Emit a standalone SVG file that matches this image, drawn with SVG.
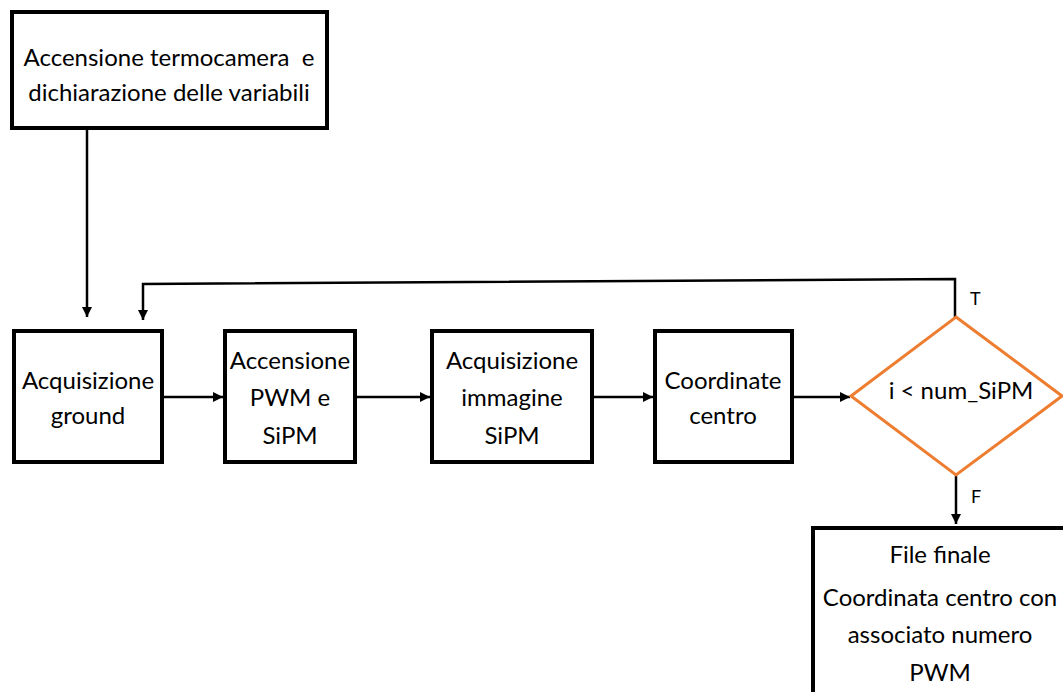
<svg xmlns="http://www.w3.org/2000/svg" width="1063" height="692" viewBox="0 0 1063 692">
<defs>
<marker id="ah" viewBox="0 0 10 10" refX="10" refY="5" markerWidth="4" markerHeight="4" orient="auto" markerUnits="strokeWidth">
<path d="M0,0 L10,5 L0,10 z" fill="#000"/>
</marker>
<style>
.box{fill:#fff;stroke:#000;stroke-width:4}
.dia{fill:#fff;stroke:#ED7D31;stroke-width:3}
.t{font-family:Lato,"Open Sans",sans-serif;font-size:24px;fill:#000;text-anchor:middle}
.s{font-family:Lato,"Open Sans",sans-serif;font-size:18px;fill:#000}
.c{fill:none;stroke:#000;stroke-width:2.5}
</style>
</defs>
<rect width="1063" height="692" fill="#fff"/>
<g id="connectors">
<path class="c" d="M87,128 L87,317" marker-end="url(#ah)"/>
<path class="c" d="M955,317 L955,279 L143,284 L143,320" marker-end="url(#ah)"/>
<path class="c" d="M162,397 L223,397" marker-end="url(#ah)"/>
<path class="c" d="M355,397 L430,397" marker-end="url(#ah)"/>
<path class="c" d="M592,397 L653,397" marker-end="url(#ah)"/>
<path class="c" d="M792,397 L850,397" marker-end="url(#ah)"/>
<path class="c" d="M956,475 L956,524" marker-end="url(#ah)"/>
</g>
<g id="start">
<rect class="box" x="12" y="12" width="315" height="116"/>
<text class="t" x="169" y="66">Accensione termocamera&#160; e</text>
<text class="t" x="169" y="101">dichiarazione delle variabili</text>
</g>
<g id="ground">
<rect class="box" x="14" y="331" width="148" height="131"/>
<text class="t" x="88" y="389">Acquisizione</text>
<text class="t" x="88" y="424">ground</text>
</g>
<g id="pwm">
<rect class="box" x="225" y="331" width="130" height="131"/>
<text class="t" x="290" y="369">Accensione</text>
<text class="t" x="290" y="406">PWM e</text>
<text class="t" x="290" y="444">SiPM</text>
</g>
<g id="img">
<rect class="box" x="432" y="331" width="160" height="131"/>
<text class="t" x="512" y="369">Acquisizione</text>
<text class="t" x="512" y="406">immagine</text>
<text class="t" x="512" y="444">SiPM</text>
</g>
<g id="coord">
<rect class="box" x="655" y="331" width="137" height="131"/>
<text class="t" x="723" y="389">Coordinate</text>
<text class="t" x="723" y="424">centro</text>
</g>
<g id="decision">
<polygon class="dia" points="956,317 1062,396 956,475 851,396"/>
<text class="t" x="961" y="399">i &lt; num_SiPM</text>
<text class="s" x="970" y="305">T</text>
<text class="s" x="971" y="503">F</text>
</g>
<g id="final">
<rect class="box" x="813" y="528" width="260" height="180"/>
<text class="t" x="940" y="563">File finale</text>
<text class="t" x="940" y="606">Coordinata centro con</text>
<text class="t" x="940" y="643">associato numero</text>
<text class="t" x="940" y="681">PWM</text>
</g>
</svg>
